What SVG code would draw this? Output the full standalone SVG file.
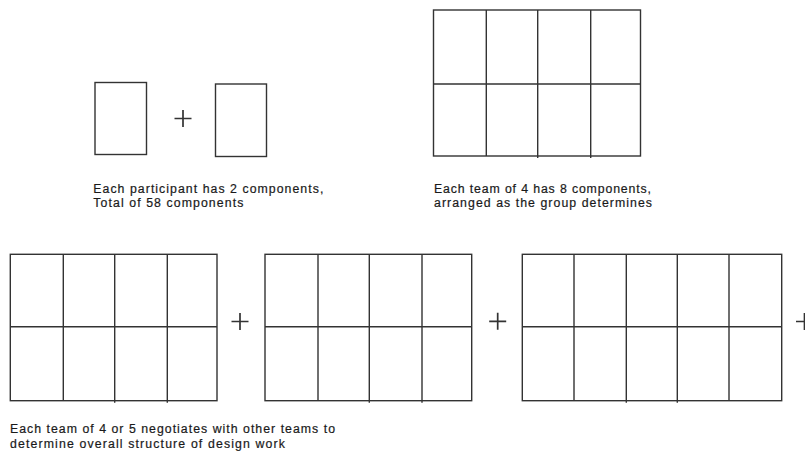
<svg xmlns="http://www.w3.org/2000/svg" width="805" height="457" viewBox="0 0 805 457">
<style>
.box{fill:none;stroke:#333;stroke-width:1.4}
.ln{stroke:#333;stroke-width:1.4;fill:none}
.plus{stroke:#333;stroke-width:1.7;fill:none}
.lbl{font-family:"Liberation Sans",Arial,sans-serif;font-size:12.3px;fill:#1a1a1a;stroke:#1a1a1a;stroke-width:0.2}
</style>
<rect width="805" height="457" fill="#fff"/>
<g id="component-a">
<rect class="box" x="95" y="82.5" width="51.5" height="72"/>
</g>
<g id="component-b">
<rect class="box" x="215.5" y="84" width="51" height="72.5"/>
</g>
<g id="team-grid-top">
<rect class="box" x="433.5" y="10" width="207" height="146"/>
<path class="ln" d="M486.3 10V156M537.7 10V158M590.7 10V158M433.5 84H640.5"/>
</g>
<g id="team-1">
<rect class="box" x="10.3" y="254.3" width="206.7" height="146.4"/>
<path class="ln" d="M63.3 254.3V400.7M114.7 254.3V402.7M167.3 254.3V402.7M10.3 326.7H217"/>
</g>
<g id="team-2">
<rect class="box" x="265" y="254.3" width="206.7" height="146.4"/>
<path class="ln" d="M318 254.3V400.7M369.3 254.3V402.7M422 254.3V402.7M265 326.7H471.7"/>
</g>
<g id="team-3">
<rect class="box" x="522.3" y="254.3" width="259.4" height="146.4"/>
<path class="ln" d="M574 254.3V400.7M626.3 254.3V402.7M677.3 254.3V402.7M729 254.3V400.7M522.3 326.7H781.7"/>
</g>
<g id="connectors">
<path class="plus" d="M174.5 118.5H191.5M183 110V127"/>
<path class="plus" d="M231.5 321.5H248.5M240 313V330"/>
<path class="plus" d="M489.2 321.3H506.2M497.7 312.8V329.8"/>
<path class="plus" d="M796 321.5H813M804.5 313V330"/>
</g>
<g id="labels">
<text class="lbl" x="93.3" y="192.7" textLength="230" lengthAdjust="spacing">Each participant has 2 components,</text>
<text class="lbl" x="93.3" y="207.3" textLength="150" lengthAdjust="spacing">Total of 58 components</text>
<text class="lbl" x="434" y="192.7" textLength="217" lengthAdjust="spacing">Each team of 4 has 8 components,</text>
<text class="lbl" x="434" y="207.3" textLength="218" lengthAdjust="spacing">arranged as the group determines</text>
<text class="lbl" x="10" y="432.7" textLength="325" lengthAdjust="spacing">Each team of 4 or 5 negotiates with other teams to</text>
<text class="lbl" x="10" y="447.5" textLength="275" lengthAdjust="spacing">determine overall structure of design work</text>
</g>
</svg>
